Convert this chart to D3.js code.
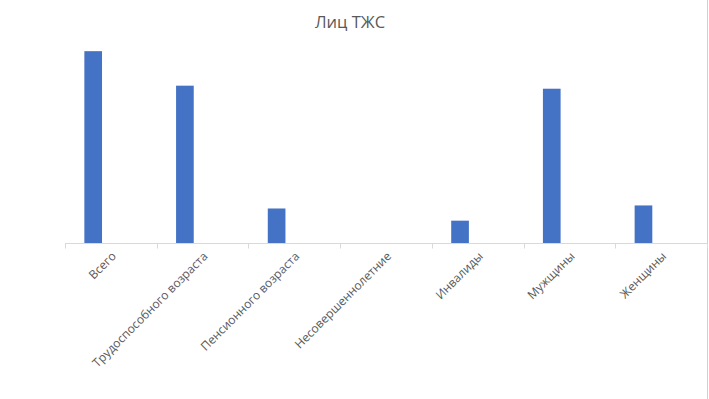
<!DOCTYPE html>
<html><head><meta charset="utf-8">
<script src="https://cdn.jsdelivr.net/npm/d3@7/dist/d3.min.js"></script>
<style>body{margin:0;background:#fff}svg{display:block}</style>
</head><body>
<script>
const title = "Лиц ТЖС";
const categories = ["Всего","Трудоспособного возраста","Пенсионного возраста","Несовершеннолетние","Инвалиды","Мужщины","Женщины"];
const values = [189, 155, 34, 0, 22, 152, 37];
const seriesSlots = ["s1","s2","s3"];

const W = 709, H = 399;
const svg = d3.select("body").append("svg").attr("width", W).attr("height", H);
const font = "'Open Sans', 'Noto Sans', sans-serif";

svg.append("line").attr("x1", 707.5).attr("x2", 707.5).attr("y1", 0).attr("y2", H)
  .attr("stroke", "#d0d0d0").attr("stroke-width", 1);

svg.append("text").attr("x", 350).attr("y", 28).attr("text-anchor", "middle")
  .attr("font-family", font).attr("font-size", 16.5).attr("fill", "#595959").text(title);

const x0 = 65, x1 = 707, yBase = 243, yTop = 40;
const x = d3.scaleBand().domain(categories).range([x0, x1]);
const y = d3.scaleLinear().domain([0, 200]).range([yBase, yTop]);
const bw = x.bandwidth();
const barW = bw / (seriesSlots.length + 2.19);
const sub = d3.scaleBand().domain(seriesSlots).range([(bw - barW * seriesSlots.length) / 2, (bw + barW * seriesSlots.length) / 2]);

svg.append("g").selectAll("rect").data(categories).join("rect")
  .attr("x", (d) => x(d) + sub("s1"))
  .attr("width", sub.bandwidth())
  .attr("y", (d, i) => y(values[i]))
  .attr("height", (d, i) => yBase - y(values[i]))
  .attr("fill", "#4472c4");

const axis = svg.append("g").attr("transform", `translate(0,${yBase + 0.5})`);
axis.append("line").attr("x1", x0).attr("x2", x1).attr("stroke", "#d9d9d9");
const tickPos = categories.map(c => x(c)).concat([x1]);
axis.selectAll("line.t").data(tickPos).join("line").attr("class", "t")
  .attr("x1", d => Math.round(d) + 0.5).attr("x2", d => Math.round(d) + 0.5)
  .attr("y1", 0).attr("y2", 5).attr("stroke", "#d9d9d9");

svg.append("g").selectAll("text").data(categories).join("text")
  .attr("transform", d => `translate(${x(d) + bw / 2 + 3},${yBase + 11}) rotate(-45)`)
  .attr("text-anchor", "end").attr("dy", "0.35em")
  .attr("font-family", font).attr("font-size", 12).attr("fill", "#595959")
  .text(d => d);
</script>
</body></html>
